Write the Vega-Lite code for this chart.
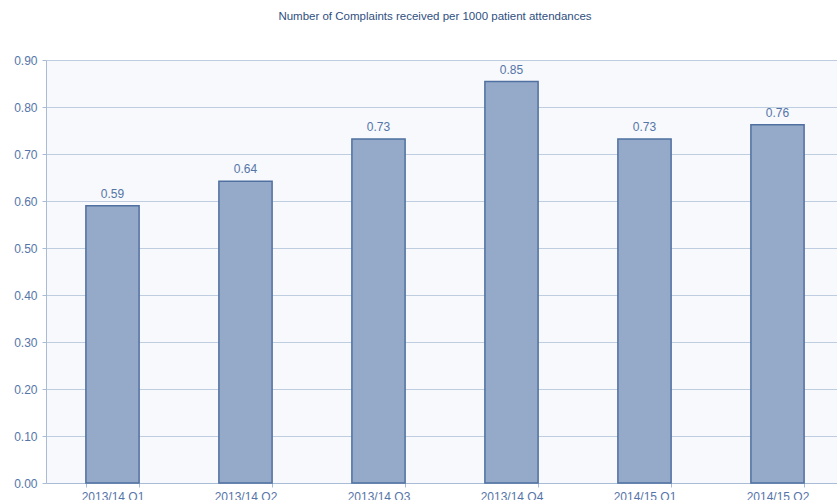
{
  "$schema": "https://vega.github.io/schema/vega-lite/v6.json",
  "autosize": {"type": "none"},
  "padding": {"left": 46, "top": 60, "right": 0, "bottom": 17},
  "width": 798,
  "height": 423,
  "background": "#ffffff",
  "title": {
    "text": "Number  of Complaints  received per 1000 patient attendances",
    "font": "Liberation Sans",
    "fontSize": 11.5,
    "fontWeight": "normal",
    "color": "#2F4F7F",
    "anchor": "middle",
    "dx": -10,
    "offset": 32
  },
  "config": {
    "view": {"stroke": null, "fill": "#F7F9FC"},
    "font": "Liberation Sans",
    "axis": {
      "labelFont": "Liberation Sans",
      "labelFontSize": 12,
      "labelColor": "#5575A8",
      "domainColor": "#A9BCD6",
      "tickColor": "#A9BCD6",
      "gridColor": "#BFCDE1",
      "gridOpacity": 1,
      "tickSize": 4,
      "title": null
    }
  },
  "data": {
    "values": [
      {"quarter": "2013/14 Q1", "rate": 0.590},
      {"quarter": "2013/14 Q2", "rate": 0.642},
      {"quarter": "2013/14 Q3", "rate": 0.732},
      {"quarter": "2013/14 Q4", "rate": 0.854},
      {"quarter": "2014/15 Q1", "rate": 0.732},
      {"quarter": "2014/15 Q2", "rate": 0.762}
    ]
  },
  "encoding": {
    "x": {
      "field": "quarter",
      "type": "nominal",
      "sort": null,
      "scale": {"paddingInner": 0.6, "paddingOuter": 0.3},
      "axis": {
        "labelAngle": 0,
        "labelPadding": 4,
        "tickBand": "extent",
        "domain": true,
        "grid": false
      }
    },
    "y": {
      "field": "rate",
      "type": "quantitative",
      "scale": {"domain": [0, 0.9], "nice": false},
      "axis": {
        "values": [0, 0.1, 0.2, 0.3, 0.4, 0.5, 0.6, 0.7, 0.8, 0.9],
        "format": ".2f",
        "grid": true,
        "labelPadding": 5,
        "domain": true
      }
    }
  },
  "layer": [
    {
      "mark": {"type": "bar", "fill": "#94AAC8", "stroke": "#4F70A0", "strokeWidth": 1.5}
    },
    {
      "mark": {"type": "text", "baseline": "alphabetic", "dy": -8, "fontSize": 12, "color": "#5575A8"},
      "encoding": {
        "text": {"field": "rate", "type": "quantitative", "format": ".2f"}
      }
    }
  ]
}
